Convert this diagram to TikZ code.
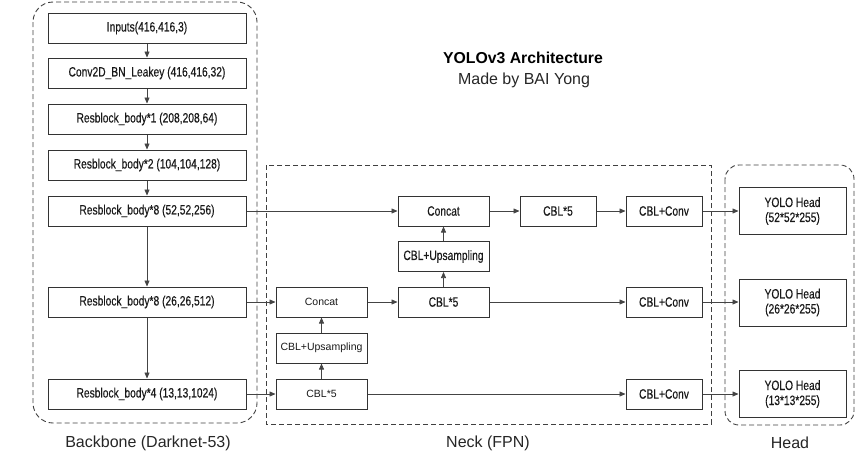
\documentclass[tikz,border=0pt]{standalone}
\usepackage{fontspec}
\setmainfont{Liberation Sans}
\newfontfamily\narrowfont[FakeStretch=0.76, FakeBold=0.35]{Liberation Sans}
\usetikzlibrary{arrows.meta, positioning}
\definecolor{boxline}{HTML}{333333}
\definecolor{arrowline}{HTML}{444444}

\begin{document}
\begin{tikzpicture}[
  x=1pt, y=-1pt,
  block/.style={
    draw=boxline, line width=1pt, inner sep=0pt,
    minimum width=#1, minimum height=30pt,
    align=center, text=black!90, font=\narrowfont\fontsize{13.5}{15}\selectfont
  },
  block/.default=198pt,
  thinblock/.style={
    block=#1, font=\fontsize{10.5}{12}\selectfont
  },
  headbox/.style={
    block=107pt, minimum height=47pt
  },
  group/.style={
    draw=black!75, line width=0.9pt, dash pattern=on 5pt off 3pt
  },
  flow/.style={
    -{Triangle[length=6pt, width=5pt]}, line width=0.7pt, color=arrowline
  },
  grouplabel/.style={
    font=\fontsize{16}{18}\selectfont, text=black!85
  }
]
\useasboundingbox (0,0) rectangle (858,474);

% Groups
\draw[group, rounded corners=20pt] (33,2) rectangle (257,423);
\draw[group] (266,165) rectangle (711,424);
\draw[group, rounded corners=14pt] (725,165) rectangle (854,425);

% Title
\node[font=\bfseries\fontsize{15.8}{18}\selectfont] (title) at (523,58) {YOLOv3 Architecture};
\node[font=\fontsize{16}{18}\selectfont, text=black!85] (author) at (524,80) {Made by BAI Yong};

% Backbone
\node[block] (inp) at (147,28) {Inputs(416,416,3)};
\node[block] (conv) at (147,73) {Conv2D\_BN\_Leakey (416,416,32)};
\node[block] (rb1) at (147,119) {Resblock\_body*1 (208,208,64)};
\node[block] (rb2) at (147,165) {Resblock\_body*2 (104,104,128)};
\node[block] (rb8a) at (147,211) {Resblock\_body*8 (52,52,256)};
\node[block] (rb8b) at (147,302) {Resblock\_body*8 (26,26,512)};
\node[block] (rb4) at (147,394) {Resblock\_body*4 (13,13,1024)};
\node[grouplabel] (bblabel) at (148,443) {Backbone (Darknet-53)};

% Neck
\node[thinblock=91pt] (concatb) at (321.5,302) {Concat};
\node[thinblock=91pt] (upb) at (321.5,348) {CBL+Upsampling};
\node[thinblock=91pt] (cblc) at (321.5,394) {CBL*5};
\node[block=91pt] (concata) at (443.5,211) {Concat};
\node[block=91pt] (upa) at (443.5,256.5) {CBL+Upsampling};
\node[block=91pt] (cblb) at (443.5,302) {CBL*5};
\node[block=76pt] (cbla) at (558,211) {CBL*5};
\node[block=76pt] (conva) at (664,211) {CBL+Conv};
\node[block=76pt] (convb) at (664,302) {CBL+Conv};
\node[block=76pt] (convc) at (664,394) {CBL+Conv};
\node[grouplabel] (necklabel) at (488,443) {Neck (FPN)};

% Head
\node[headbox] (heada) at (792.5,211) {YOLO Head\\(52*52*255)};
\node[headbox] (headb) at (792.5,302.5) {YOLO Head\\(26*26*255)};
\node[headbox] (headc) at (792.5,394) {YOLO Head\\(13*13*255)};
\node[grouplabel] (headlabel) at (790,443) {Head};

% Connections
\draw[flow] (inp) -- (conv);
\draw[flow] (conv) -- (rb1);
\draw[flow] (rb1) -- (rb2);
\draw[flow] (rb2) -- (rb8a);
\draw[flow] (rb8a) -- (rb8b);
\draw[flow] (rb8b) -- (rb4);
\draw[flow] (rb8a) -- (concata);
\draw[flow] (rb8b) -- (concatb);
\draw[flow] (rb4) -- (cblc);
\draw[flow] (cblc) -- (upb);
\draw[flow] (upb) -- (concatb);
\draw[flow] (concatb) -- (cblb);
\draw[flow] (cblb) -- (upa);
\draw[flow] (upa) -- (concata);
\draw[flow] (concata) -- (cbla);
\draw[flow] (cbla) -- (conva);
\draw[flow] (cblb) -- (convb);
\draw[flow] (cblc) -- (convc);
\draw[flow] (conva) -- (heada);
\draw[flow] (convb) -- (convb -| headb.west);
\draw[flow] (convc) -- (headc);

\end{tikzpicture}
\end{document}
